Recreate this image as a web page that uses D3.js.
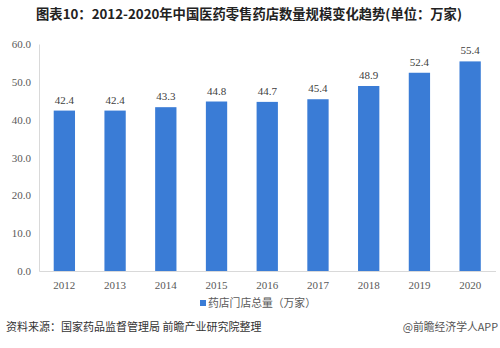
<!DOCTYPE html>
<html><head><meta charset="utf-8">
<script src="https://cdn.jsdelivr.net/npm/d3@7"></script>
<style>body{margin:0;background:#fff}svg{display:block}</style>
</head><body>
<svg id="c" width="500" height="348"></svg>
<script>
const years = ["2012","2013","2014","2015","2016","2017","2018","2019","2020"];
const stores = [42.4, 42.4, 43.3, 44.8, 44.7, 45.4, 48.9, 52.4, 55.4];
const yTicks = [0,10,20,30,40,50,60];
const title = "图表10：2012-2020年中国医药零售药店数量规模变化趋势(单位：万家)";
const legendLabel = "药店门店总量（万家）";
const source = "资料来源：国家药品监督管理局 前瞻产业研究院整理";
const credit = "@前瞻经济学人APP";

const svg = d3.select("#c");
const cjk = "'Noto Sans CJK SC','Noto Sans',sans-serif";
const serif = "'Liberation Serif','DejaVu Serif',serif";
const barColor = "#3a7cd6";

const x = d3.scaleBand().domain(years).range([39, 495.5]).paddingInner(0.58).paddingOuter(0.29);
const y = d3.scaleLinear().domain([0, 60]).range([271, 44]);

svg.append("text").attr("x", 249).attr("y", 19).attr("text-anchor", "middle")
  .attr("font-family", cjk).attr("font-weight", "bold").attr("font-size", 13.3).attr("fill", "#222")
  .text(title);

// y axis
const ya = svg.append("g").attr("transform", "translate(39,0)")
  .call(d3.axisLeft(y).tickValues(yTicks).tickFormat(d3.format(".1f")).tickSize(0).tickPadding(8));
ya.select(".domain").attr("stroke", "#d9d9d9");
ya.selectAll("text").attr("font-family", serif).attr("font-size", 11).attr("fill", "#595959");

// x axis
const xa = svg.append("g").attr("transform", "translate(0,271)")
  .call(d3.axisBottom(x).tickSize(0).tickPadding(10));
xa.select(".domain").attr("stroke", "#d9d9d9");
xa.selectAll("text").attr("font-family", serif).attr("font-size", 11).attr("fill", "#595959");

svg.append("g").selectAll("rect").data(stores).join("rect")
  .attr("x", (d,i) => x(years[i])).attr("width", x.bandwidth())
  .attr("y", d => y(d)).attr("height", d => y(0) - y(d))
  .attr("fill", barColor);

svg.append("g").selectAll("text").data(stores).join("text")
  .attr("x", (d,i) => x(years[i]) + x.bandwidth()/2).attr("y", d => y(d) - 7)
  .attr("text-anchor", "middle").attr("font-family", serif).attr("font-size", 11).attr("fill", "#404040")
  .text(d => d.toFixed(1));

// legend
const lg = svg.append("g").attr("transform", "translate(200,304)");
lg.append("rect").attr("x", 0).attr("y", -4).attr("width", 6).attr("height", 6).attr("fill", barColor);
lg.append("text").attr("x", 8).attr("y", 0).attr("dominant-baseline", "middle")
  .attr("font-family", cjk).attr("font-size", 10.8).attr("fill", "#595959").text(legendLabel);

svg.append("text").attr("x", 6).attr("y", 331).attr("font-family", cjk).attr("font-size", 11).attr("fill", "#333").text(source);
svg.append("text").attr("x", 498).attr("y", 331).attr("text-anchor", "end").attr("font-family", cjk).attr("font-size", 10.8).attr("fill", "#555").text(credit);
</script>
</body></html>
